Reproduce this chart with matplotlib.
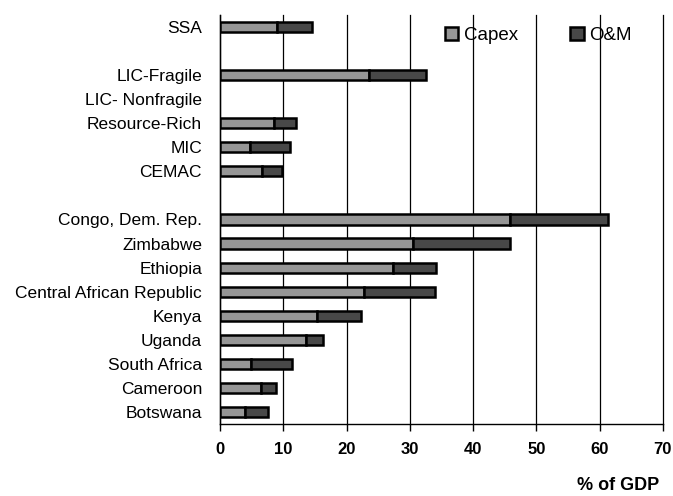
import matplotlib.pyplot as plt
from matplotlib import font_manager

# data (% of GDP), top to bottom, "" = empty spacer row
categories = ["SSA", "", "LIC-Fragile", "LIC- Nonfragile", "Resource-Rich", "MIC", "CEMAC", "",
              "Congo, Dem. Rep.", "Zimbabwe", "Ethiopia", "Central African Republic",
              "Kenya", "Uganda", "South Africa", "Cameroon", "Botswana"]
capex = [9.0, 0, 23.5, 0, 8.6, 4.8, 6.7, 0,
         45.9, 30.5, 27.4, 22.7, 15.4, 13.6, 4.9, 6.5, 3.9]
om = [5.6, 0, 9.1, 0, 3.4, 6.3, 3.1, 0,
      15.5, 15.3, 6.7, 11.3, 6.9, 2.6, 6.4, 2.4, 3.6]
xticks = [0, 10, 20, 30, 40, 50, 60, 70]

names = [f.name for f in font_manager.fontManager.ttflist]
fam = "Liberation Sans Narrow" if "Liberation Sans Narrow" in names else "Liberation Sans"
plt.rcParams['font.family'] = [fam, 'DejaVu Sans']

fig = plt.figure(figsize=(6.73, 4.96), dpi=100)
ax = fig.add_axes([0.327, 0.145, 0.658, 0.825])

ypos = list(range(len(categories)))
h = 0.42
for i in ypos:
    if capex[i] == 0 and om[i] == 0:
        continue
    ax.barh(i, capex[i], height=h, color="#969696", edgecolor="black", linewidth=1.8, zorder=3)
    ax.barh(i, om[i], left=capex[i], height=h, color="#484848", edgecolor="black", linewidth=1.8, zorder=3)

ax.set_ylim(len(categories) - 0.5, -0.5)
ax.set_xlim(0, 70)
ax.set_yticks(ypos)
ax.set_yticklabels(categories, fontsize=12.5)
ax.tick_params(axis='y', length=0, pad=13)
ax.set_xticks(xticks)
ax.set_xticklabels([str(t) for t in xticks], fontsize=12, fontweight='bold')
ax.tick_params(axis='x', direction='out', length=5, width=1, pad=8)
ax.xaxis.grid(True, color="black", linewidth=0.9, zorder=0, clip_on=False)
ax.set_axisbelow(True)
for s in ["top", "right"]:
    ax.spines[s].set_visible(False)
ax.spines["left"].set_linewidth(1)
ax.spines["bottom"].set_linewidth(1)

h1 = plt.Rectangle((0, 0), 1, 1, facecolor="#969696", edgecolor="black", linewidth=1.8)
h2 = plt.Rectangle((0, 0), 1, 1, facecolor="#484848", edgecolor="black", linewidth=1.8)
ax.legend([h1, h2], ["Capex", "O&M"], loc="upper left", bbox_to_anchor=(0.47, 1.012),
          ncol=2, frameon=False, handlelength=0.7, handleheight=0.7, handletextpad=0.3,
          columnspacing=2.8, prop={'size': 13.5})

fig.text(0.918, 0.004, "% of GDP", ha="center", va="bottom", fontsize=13, fontweight="bold")

fig.savefig("out.png", dpi=100)
